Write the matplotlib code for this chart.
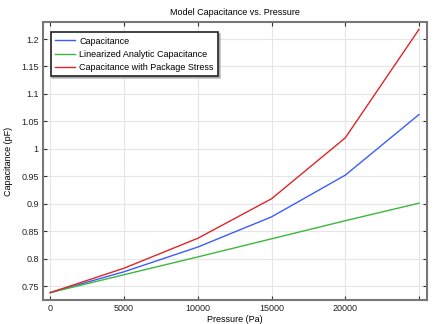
import numpy as np
import matplotlib.pyplot as plt

pressure = np.array([0, 5000, 10000, 15000, 20000, 25000])
capacitance = np.array([0.738, 0.776, 0.821, 0.876, 0.952, 1.0625])
linearized = np.array([0.738, 0.7706, 0.803, 0.836, 0.869, 0.901])
package_stress = np.array([0.738, 0.7825, 0.837, 0.909, 1.020, 1.2177])

xticks = [0, 5000, 10000, 15000, 20000, 25000]
xticklabels = ["0", "5000", "10000", "15000", "20000", ""]
yticks = np.arange(0.75, 1.2001, 0.05)
yticklabels = ["0.75", "0.8", "0.85", "0.9", "0.95", "1", "1.05", "1.1", "1.15", "1.2"]

plt.rcParams["font.family"] = ["Liberation Sans", "DejaVu Sans"]
plt.rcParams["font.size"] = 6.5

fig = plt.figure(figsize=(4.44, 3.24), dpi=100)
ax = fig.add_axes([0.0968, 0.074, 0.8649, 0.858])

ax.plot(pressure, capacitance, color="#3d5cff", lw=1.0, label="Capacitance")
ax.plot(pressure, linearized, color="#3cb83c", lw=1.0, label="Linearized Analytic Capacitance")
ax.plot(pressure, package_stress, color="#e0252a", lw=1.0, label="Capacitance with Package Stress")

ax.set_xlim(-495, 25540)
ax.set_ylim(0.7245, 1.231)
ax.set_xticks(xticks)
ax.set_xticklabels(xticklabels)
ax.set_yticks(yticks)
ax.set_yticklabels(yticklabels)

ax.grid(True, color="#e6e6e6", lw=0.8)
ax.set_axisbelow(True)
ax.tick_params(direction="in", top=True, right=True, length=3, width=0.8,
               color="#333333", labelcolor="#222222", pad=3)
for sp in ax.spines.values():
    sp.set_color("#777777")
    sp.set_linewidth(1.5)

ax.set_title("Model Capacitance vs. Pressure", fontsize=6.5, pad=5)
ax.set_xlabel("Pressure (Pa)", labelpad=1)
ax.set_ylabel("Capacitance (pF)", labelpad=6)

leg = ax.legend(loc="upper left", bbox_to_anchor=(0.008, 0.98), fancybox=False,
                shadow={"ox": 1.2, "oy": -1.2, "color": "#999999", "alpha": 0.6},
                framealpha=1, edgecolor="#222222",
                handlelength=2.2, handletextpad=0.5, borderpad=0.5, labelspacing=0.45)
leg.get_frame().set_linewidth(1.2)

fig.savefig("out.png", dpi=100)
